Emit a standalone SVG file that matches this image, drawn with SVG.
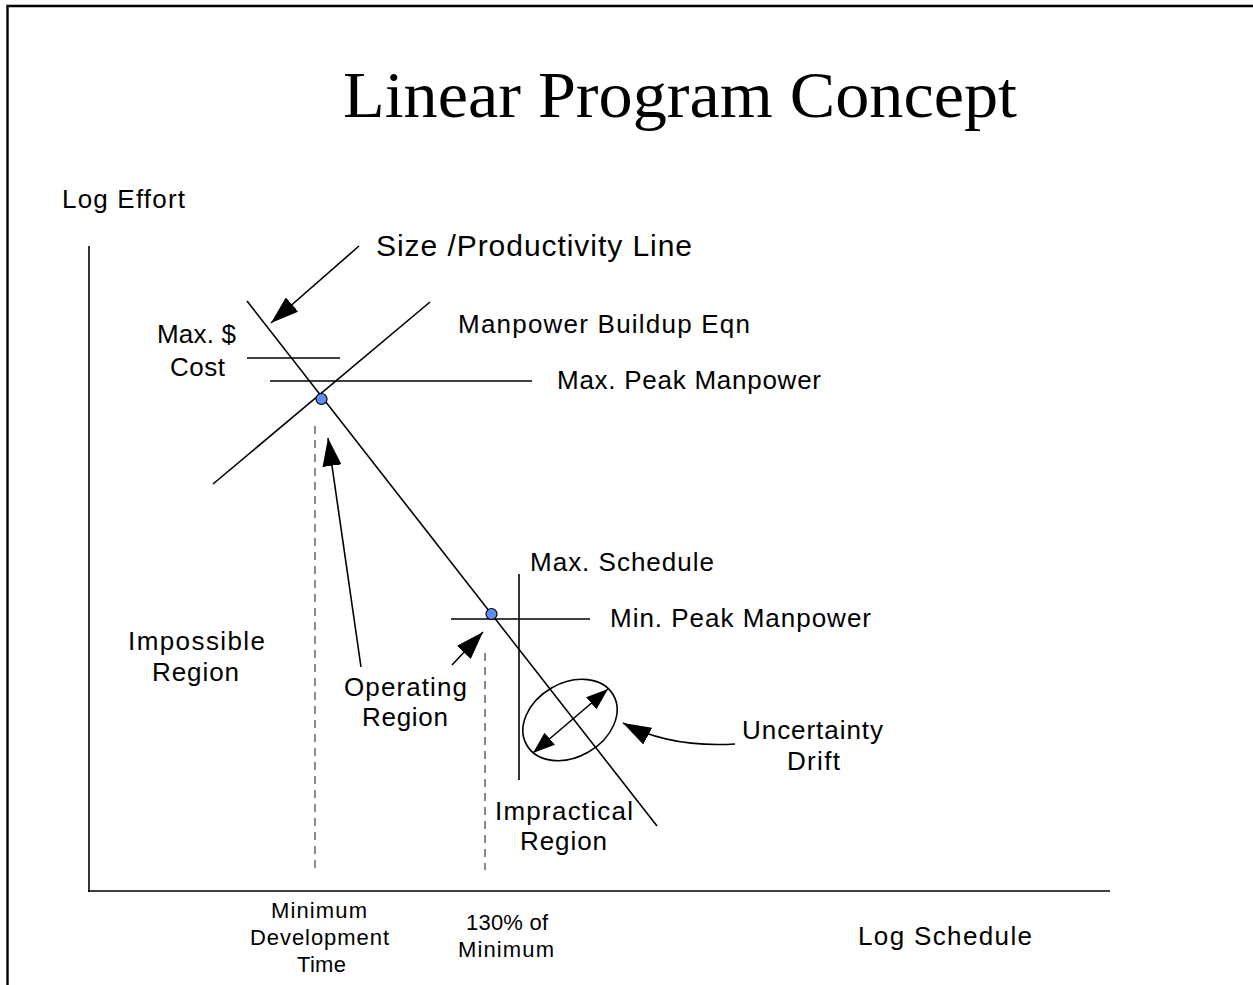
<svg xmlns="http://www.w3.org/2000/svg" width="1253" height="985" viewBox="0 0 1253 985">
  <style>
    .t { font-family: "Liberation Sans", Arial, sans-serif; font-size: 26px; fill: #000; }
    .s { font-family: "Liberation Sans", Arial, sans-serif; font-size: 22px; fill: #000; }
    .ln { stroke: #000; stroke-width: 1.6; fill: none; }
    .dash { stroke: #666; stroke-width: 1.5; stroke-dasharray: 8 6; fill: none; }
    .pt { fill: #5b8ef0; stroke: #000; stroke-width: 1.2; }
  </style>
  <defs>
    <marker id="ah" viewBox="0 0 28 19" refX="28" refY="9.5" markerWidth="28" markerHeight="19" markerUnits="userSpaceOnUse" orient="auto-start-reverse">
      <path d="M0,0 L28,9.5 L0,19 z" fill="#000"/>
    </marker>
    <marker id="ahs" viewBox="0 0 22 16" refX="22" refY="8" markerWidth="22" markerHeight="16" markerUnits="userSpaceOnUse" orient="auto-start-reverse">
      <path d="M0,0 L22,8 L0,16 z" fill="#000"/>
    </marker>
  </defs>

  <!-- page frame -->
  <path d="M7.5,985 V6 H1253" fill="none" stroke="#000" stroke-width="2.4"/>

  <!-- title -->
  <text x="343" y="117" font-family="'Liberation Serif', 'Times New Roman', serif" font-size="66" textLength="674" lengthAdjust="spacingAndGlyphs">Linear Program Concept</text>

  <!-- axes -->
  <g id="axes">
    <line x1="89" y1="246" x2="89" y2="892" class="ln" stroke-width="2"/>
    <line x1="88" y1="891" x2="1110" y2="891" class="ln" stroke-width="2"/>
    <text class="t" x="62" y="208" textLength="123">Log Effort</text>
    <text class="t" x="858" y="945" textLength="174">Log Schedule</text>
  </g>

  <!-- constraint lines -->
  <g id="size-productivity-line">
    <line x1="247" y1="301" x2="657" y2="826" class="ln"/>
    <text x="376" y="256" font-family="'Liberation Sans', Arial, sans-serif" font-size="30" textLength="316">Size /Productivity Line</text>
  </g>
  <g id="manpower-buildup">
    <line x1="213" y1="484" x2="430" y2="302" class="ln"/>
    <text class="t" x="458" y="333" textLength="292">Manpower Buildup Eqn</text>
  </g>
  <g id="max-cost">
    <line x1="247" y1="358" x2="340" y2="358" class="ln"/>
    <text class="t" x="157" y="343" textLength="79">Max. $</text>
    <text class="t" x="170" y="376" textLength="55">Cost</text>
  </g>
  <g id="max-peak-manpower">
    <line x1="270" y1="381" x2="532" y2="381" class="ln"/>
    <text class="t" x="557" y="389" textLength="264">Max. Peak Manpower</text>
  </g>
  <g id="min-peak-manpower">
    <line x1="451" y1="619" x2="590" y2="619" class="ln"/>
    <text class="t" x="610" y="627" textLength="261">Min. Peak Manpower</text>
  </g>
  <g id="max-schedule">
    <line x1="519" y1="574" x2="519" y2="780" class="ln" stroke-width="2.4"/>
    <text class="t" x="530" y="571" textLength="184">Max. Schedule</text>
  </g>

  <!-- reference times -->
  <g id="min-dev-time">
    <line x1="315" y1="426" x2="315" y2="870" class="dash"/>
    <text class="s" x="271" y="918" textLength="96">Minimum</text>
    <text class="s" x="250" y="945" textLength="139">Development</text>
    <text class="s" x="297" y="972" textLength="49">Time</text>
  </g>
  <g id="pct130">
    <line x1="485" y1="653" x2="485" y2="870" class="dash"/>
    <text class="s" x="466" y="930" textLength="82">130% of</text>
    <text class="s" x="458" y="957" textLength="96">Minimum</text>
  </g>

  <!-- points -->
  <g id="point-min-time">
    <circle cx="321.5" cy="399" r="5.5" class="pt"/>
  </g>
  <g id="point-130">
    <circle cx="491.5" cy="614" r="5.5" class="pt"/>
  </g>

  <!-- region labels -->
  <g id="impossible-region">
    <text class="t" x="128" y="650" textLength="137">Impossible</text>
    <text class="t" x="152" y="681" textLength="87">Region</text>
  </g>
  <g id="operating-region">
    <text class="t" x="344" y="696" textLength="123">Operating</text>
    <text class="t" x="362" y="726" textLength="86">Region</text>
  </g>
  <g id="impractical-region">
    <text class="t" x="495" y="820" textLength="138">Impractical</text>
    <text class="t" x="520" y="850" textLength="87">Region</text>
  </g>
  <g id="uncertainty">
    <ellipse cx="570" cy="720" rx="50" ry="37" transform="rotate(-30 570 720)" class="ln"/>
    <text class="t" x="742" y="739" textLength="141">Uncertainty</text>
    <text class="t" x="787" y="770" textLength="53">Drift</text>
  </g>

  <!-- connectors -->
  <g id="connectors">
    <line x1="359" y1="246" x2="271" y2="323" class="ln" marker-end="url(#ah)"/>
    <line x1="361" y1="667" x2="328" y2="438" class="ln" marker-end="url(#ah)"/>
    <line x1="452" y1="665" x2="483" y2="632" class="ln" marker-end="url(#ah)"/>
    <line x1="533" y1="753" x2="608" y2="689" class="ln" marker-start="url(#ahs)" marker-end="url(#ahs)"/>
    <path d="M735,744 Q670,748 623,723" class="ln" marker-end="url(#ah)"/>
  </g>
</svg>
